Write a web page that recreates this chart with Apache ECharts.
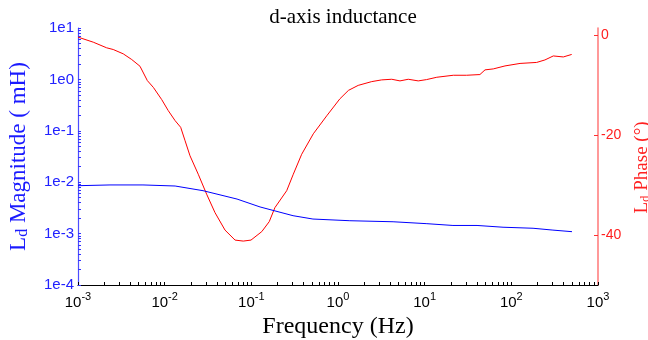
<!DOCTYPE html>
<html>
<head>
<meta charset="utf-8">
<script src="https://cdn.jsdelivr.net/npm/echarts@6/dist/echarts.min.js"></script>
<style>html,body{margin:0;padding:0;background:#fff;}#c{width:648px;height:340px;}</style>
</head>
<body>
<div id="c"></div>
<script>
// Magnitude (mH) vs frequency (Hz)
const magFreq = [0.001, 0.00234, 0.00562, 0.0132, 0.0277, 0.0684, 0.126, 0.303, 0.514, 1.37, 4.32, 10.6, 21.2, 40.2, 80.2, 178, 302, 501];
const magVal  = [0.00855, 0.00884, 0.00884, 0.00843, 0.00684, 0.0047, 0.0033, 0.00223, 0.00192, 0.00178, 0.0017, 0.00156, 0.00144, 0.00144, 0.00133, 0.00127, 0.00117, 0.00109];
// Phase (deg) vs frequency (Hz)
const phFreq = [0.001, 0.0015, 0.00214, 0.00255, 0.00333, 0.00417, 0.00519, 0.00631, 0.0074, 0.00925, 0.011, 0.0132, 0.0153, 0.0172, 0.0196, 0.0244, 0.0305, 0.0381, 0.0497, 0.0649, 0.0807, 0.0991, 0.132, 0.161, 0.187, 0.256, 0.305, 0.381, 0.519, 0.741, 1.05, 1.32, 1.71, 2.45, 3.19, 4.17, 5.19, 6.47, 8.43, 10.5, 13.8, 21.4, 30.5, 43.4, 49.7, 61.9, 84.5, 126, 196, 244, 305, 398, 497];
const phVal  = [-0.33, -1.34, -2.47, -2.81, -3.68, -4.82, -6.16, -9.04, -10.4, -12.85, -15.06, -17.07, -18.4, -21.1, -24.1, -27.8, -31.8, -35.5, -39.0, -41.0, -41.2, -41.0, -39.3, -37.3, -34.5, -31.1, -27.8, -23.8, -19.7, -16.1, -12.7, -11.0, -10.0, -9.24, -8.9, -8.77, -9.1, -8.77, -9.1, -8.84, -8.37, -7.97, -7.97, -7.83, -6.89, -6.7, -6.1, -5.6, -5.4, -4.9, -4.1, -4.3, -3.8];
// Tick labels
const xDecades = [0.001, 0.01, 0.1, 1, 10, 100, 1000];
const yDecades = [0.0001, 0.001, 0.01, 0.1, 1, 10];
const phaseTicks = [0, -20, -40];

function logMinor(decades) {
  const out = [];
  decades.forEach((d, i) => {
    out.push(d);
    if (i < decades.length - 1) for (let k = 2; k <= 9; k++) out.push(+(d * k).toPrecision(3));
  });
  return out;
}
const expOf = v => Math.round(Math.log10(v));
const SERIF = "'Liberation Serif', 'Times New Roman', serif";
const SANS = "'Liberation Sans', Arial, sans-serif";

const chart = echarts.init(document.getElementById('c'), null, {renderer: 'canvas'});
chart.setOption({
  animation: false,
  backgroundColor: '#fff',
  title: {
    text: 'd-axis inductance', left: 338, textAlign: 'center', top: 2,
    textStyle: {fontFamily: SERIF, fontSize: 21, fontWeight: 'normal', color: '#000'}
  },
  grid: {left: 78, right: 50, top: 28, bottom: 55, outerBoundsMode: 'none', containLabel: false},
  xAxis: {
    type: 'log', logBase: 10, min: 0.001, max: 1000,
    name: 'Frequency (Hz)', nameLocation: 'middle', nameGap: 26,
    nameTextStyle: {fontFamily: SERIF, fontSize: 24, color: '#000'},
    axisLine: {onZero: false, lineStyle: {color: '#000', width: 1.2}},
    axisTick: {inside: true, length: 3, customValues: logMinor(xDecades), lineStyle: {color: '#000'}},
    splitLine: {show: false}, minorTick: {show: false},
    axisLabel: {
      customValues: xDecades, margin: 6,
      formatter: v => '{b|10}{s|' + expOf(v) + '}',
      rich: {
        b: {fontFamily: SANS, fontSize: 15, color: '#000', verticalAlign: 'bottom'},
        s: {fontFamily: SANS, fontSize: 11, color: '#000', verticalAlign: 'top', padding: [0, 0, 8, 0]}
      }
    }
  },
  yAxis: [{
    type: 'log', logBase: 10, min: 0.0001, max: 10, position: 'left',
    name: '{m|L}{sub|d}{m| Magnitude ( mH)}', nameLocation: 'middle', nameGap: 47, nameRotate: 90,
    nameTextStyle: {
      rich: {
        m: {fontFamily: SERIF, fontSize: 23, color: '#1a1aff'},
        sub: {fontFamily: SERIF, fontSize: 16, color: '#1a1aff', verticalAlign: 'bottom', padding: [9, 0, 0, 0]}
      }
    },
    axisLine: {show: true, onZero: false, lineStyle: {color: '#4d4dff', width: 1.2}},
    axisTick: {inside: true, length: 3, customValues: logMinor(yDecades), lineStyle: {color: '#3333ff'}},
    splitLine: {show: false},
    axisLabel: {
      customValues: yDecades, margin: 4,
      formatter: v => '1e' + expOf(v),
      fontFamily: SANS, fontSize: 15, color: '#2222ff'
    }
  }, {
    type: 'value', min: -50, max: 1.5, position: 'right',
    name: '{m|L}{sub|d}{m| Phase (°)}', nameLocation: 'middle', nameGap: 20, nameRotate: 90,
    nameTextStyle: {
      padding: [0, 22, 0, 0],
      rich: {
        m: {fontFamily: SERIF, fontSize: 19, color: '#ff2020'},
        sub: {fontFamily: SERIF, fontSize: 13, color: '#ff2020', verticalAlign: 'bottom', padding: [7, 0, 0, 0]}
      }
    },
    axisLine: {show: true, onZero: false, lineStyle: {color: '#ff8080', width: 1.6}},
    axisTick: {inside: true, length: 4, customValues: phaseTicks, lineStyle: {color: '#ff3030'}},
    splitLine: {show: false},
    axisLabel: {
      customValues: phaseTicks, margin: 3,
      fontFamily: SANS, fontSize: 14, color: '#ff2020'
    }
  }],
  series: [{
    type: 'line', yAxisIndex: 1, showSymbol: false, symbol: 'none',
    data: phFreq.map((f, i) => [f, phVal[i]]),
    lineStyle: {color: '#ff0000', width: 1}
  }, {
    type: 'line', yAxisIndex: 0, showSymbol: false, symbol: 'none',
    data: magFreq.map((f, i) => [f, magVal[i]]),
    lineStyle: {color: '#0000ff', width: 1}
  }]
});
</script>
</body>
</html>
